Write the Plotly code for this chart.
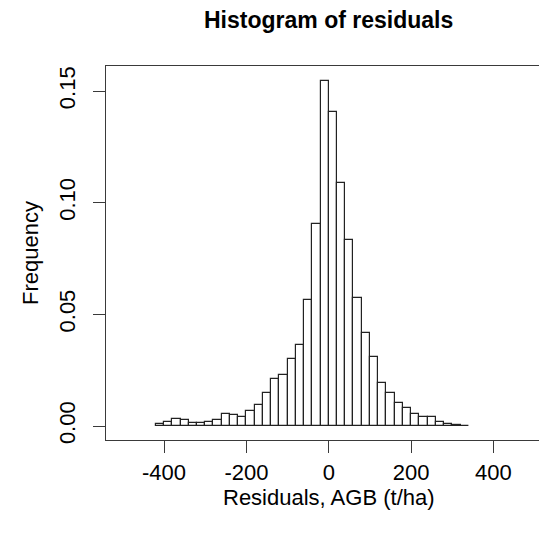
import plotly.graph_objects as go

# Histogram bins (left edges, width 20) and relative frequencies
bin_left = [-420, -400, -380, -360, -340, -320, -300, -280, -260, -240,
            -220, -200, -180, -160, -140, -120, -100, -80, -60, -40,
            -20, 0, 20, 40, 60, 80, 100, 120, 140, 160,
            180, 200, 220, 240, 260, 280, 300, 320]
freq = [0.0008, 0.0019, 0.0030, 0.0026, 0.0014, 0.0014, 0.0020, 0.0027, 0.0055, 0.0048,
        0.0041, 0.0067, 0.0096, 0.0146, 0.0209, 0.0227, 0.0301, 0.0363, 0.0564, 0.0906,
        0.1545, 0.1408, 0.1087, 0.0832, 0.0575, 0.0418, 0.0310, 0.0191, 0.0149, 0.0102,
        0.0081, 0.0052, 0.0039, 0.0039, 0.0018, 0.0009, 0.0004, 0.0002]
bin_width = 20
x_ticks = [-400, -200, 0, 200, 400]
y_ticks = [0.00, 0.05, 0.10, 0.15]
y_tick_text = ["0.00", "0.05", "0.10", "0.15"]

centers = [b + bin_width / 2 for b in bin_left]

FONT = "Liberation Sans, Arial, Helvetica, sans-serif"
LINE = "#3a3a3a"
OFF = 8  # default page body margin
W, H = 547 - OFF, 536 - OFF
L, R, T, B = 106 - OFF, 0, 66 - OFF, 96
PW, PH = W - L - R, H - T - B


def px_x(page_x):
    return (page_x - OFF - L) / PW


def px_y(page_y):
    return (T + PH - (page_y - OFF)) / PH


fig = go.Figure(go.Bar(
    x=centers, y=freq, width=[bin_width] * len(freq),
    marker=dict(color="white", line=dict(color="#222222", width=1.2)),
    hoverinfo="x+y",
))

fig.update_layout(
    width=W, height=H,
    margin=dict(l=L, r=R, t=T, b=B, autoexpand=False),
    paper_bgcolor="white", plot_bgcolor="white",
    showlegend=False,
    bargap=0,
    font=dict(family=FONT, color="black"),
    annotations=[
        dict(text="<b>Histogram of residuals</b>", xref="paper", yref="paper",
             x=px_x(328.5), y=px_y(20), showarrow=False,
             xanchor="center", yanchor="middle",
             font=dict(family=FONT, size=23, color="black")),
        dict(text="Residuals, AGB (t/ha)", xref="paper", yref="paper",
             x=px_x(328.5), y=px_y(497), showarrow=False,
             xanchor="center", yanchor="middle",
             font=dict(family=FONT, size=22, color="black")),
        dict(text="Frequency", xref="paper", yref="paper",
             x=px_x(30), y=px_y(253), showarrow=False, textangle=-90,
             xanchor="center", yanchor="middle",
             font=dict(family=FONT, size=22, color="black")),
    ],
)

fig.update_xaxes(
    range=[-541, 530], showgrid=False, zeroline=False, automargin=False,
    showline=True, linecolor=LINE, linewidth=1.4, mirror=True,
    ticks="outside", ticklen=12, tickwidth=1.3, tickcolor=LINE,
    tickvals=x_ticks, ticktext=[str(v) for v in x_ticks],
    tickfont=dict(size=22, family=FONT, color="black"),
)
fig.update_yaxes(
    range=[-0.00627, 0.1612], showgrid=False, zeroline=False, automargin=False,
    showline=True, linecolor=LINE, linewidth=1.4, mirror=False,
    ticks="outside", ticklen=12, tickwidth=1.3, tickcolor=LINE,
    tickvals=y_ticks, ticktext=y_tick_text, tickangle=-90,
    ticklabelstandoff=9,
    tickfont=dict(size=22, family=FONT, color="black"),
)

fig.write_html("out.html")
